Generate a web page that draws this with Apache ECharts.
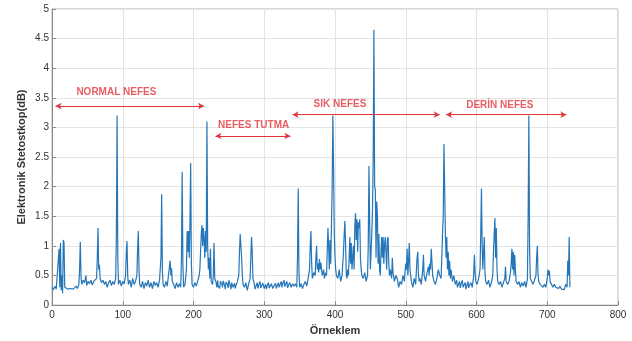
<!DOCTYPE html>
<html>
<head>
<meta charset="utf-8">
<script src="https://cdn.jsdelivr.net/npm/echarts@6/dist/echarts.min.js"></script>
<style>
  html, body { margin: 0; padding: 0; background: #fff; }
  #chart { width: 632px; height: 341px; }
</style>
</head>
<body>
<div id="chart"></div>
<script>
// sample index, amplitude (dB), one array per breathing phase
const normalNefes = [
  [0,0.3],[2,0.26],[4,0.32],[6,0.27],[8,0.3],[10,0.95],[11,0.3],[12,1.05],[13,0.25],[14,0.5],[15,0.2],[16,1.1],[17,1.05],[18,0.3],
  [20,0.28],[22,0.27],[24,0.3],[26,0.28],[28,0.3],[30,0.27],[32,0.29],[34,0.32],[36,0.28],[38,0.35],[39,0.6],[40,1.07],[41,0.5],
  [42,0.35],[44,0.42],[46,0.38],[48,0.5],[49,0.33],[51,0.4],[53,0.36],[55,0.42],[57,0.34],[59,0.4],[61,0.37],[63,0.45],[64,0.8],
  [65,1.3],[66,0.6],[67,0.68],[68,0.45],[70,0.38],[72,0.42],[74,0.35],[76,0.4],[78,0.3],[80,0.38],[82,0.42],[84,0.33],[86,0.4],
  [88,0.35],[90,0.45],[91,1.2],[92,3.2],[93,0.8],[94,0.35],[96,0.42],[98,0.32],[100,0.4],[102,0.36],[104,0.5],[105,0.9],[106,1.08],
  [107,0.5],[108,0.35],[110,0.42],[112,0.3],[114,0.45],[116,0.35],[118,0.4],[120,0.5],[121,0.95],[122,1.25],[123,0.6],[124,0.35],
  [126,0.3],[128,0.4],[130,0.28],[132,0.38],[134,0.32],[136,0.42],[138,0.3],[140,0.38],[142,0.28],[144,0.4],[146,0.33],[148,0.38],
  [150,0.3],[152,0.42],[154,0.8],[155,1.87],[156,0.6],[157,0.35],[159,0.3],[161,0.4],[163,0.32],[165,0.55],[166,0.65],[167,0.75],
  [168,0.5],[169,0.62],[170,0.4],[172,0.35],[174,0.28],[176,0.38],[178,0.3],[180,0.36],[182,0.3],[183,0.8],[184,2.25],[185,0.7],
  [186,0.3],[188,0.35],[190,0.6],[191,1.25],[192,0.9],[193,1.25],[194,0.8],[195,1.4],[196,2.4],[197,0.7],[198,0.35],[200,0.3],
  [202,0.38],[204,0.32],[206,0.35],[208,0.5],[209,0.6],[210,0.9],[211,1.2],[212,1.35],[213,1.0],[214,1.3],[215,1.1],[216,0.8],
  [217,1.25],[218,0.9],[219,3.1],[220,1.0],[221,0.6],[222,0.8],[223,0.45],[224,0.95],[225,0.4],[227,0.35],[228,0.5],[229,1.05],[230,0.45]
];
const nefesTutma = [
  [232,0.38],[233,0.3],[234,0.42],[235,0.32],[236,0.34],[237,0.28],[238,0.4],[240,0.36],[241,0.3],[242,0.41],[244,0.33],[245,0.27],
  [246,0.39],[248,0.35],[249,0.29],[250,0.42],[252,0.32],[253,0.27],[254,0.38],[256,0.3],[258,0.37],[259,0.28],[260,0.33],[262,0.4],
  [264,0.5],[265,0.9],[266,1.2],[267,1.18],[268,0.8],[269,0.5],[270,0.35],[272,0.3],[274,0.38],[276,0.25],[278,0.36],[280,0.45],
  [281,0.8],[282,1.15],[283,0.9],[284,0.45],[286,0.35],[287,0.27],[288,0.3],[290,0.38],[291,0.28],[292,0.33],[294,0.4],[295,0.29],
  [296,0.3],[298,0.37],[300,0.28],[302,0.35],[303,0.27],[304,0.32],[306,0.38],[307,0.29],[308,0.3],[310,0.36],[312,0.28],[314,0.33],
  [316,0.37],[317,0.28],[318,0.3],[320,0.38],[321,0.3],[322,0.33],[324,0.4],[325,0.3],[326,0.36],[328,0.42],[329,0.31],[330,0.35],
  [332,0.4],[333,0.29],[334,0.33],[336,0.38],[338,0.3],[340,0.36]
];
const sikNefes = [
  [342,0.32],[344,0.36],[346,0.3],[347,0.8],[348,1.97],[349,0.6],[350,0.3],[352,0.36],[354,0.28],[356,0.35],[358,0.4],[360,0.32],
  [362,0.45],[364,0.6],[365,1.0],[366,1.25],[367,0.7],[368,0.45],[370,0.55],[372,0.5],[373,0.8],[374,1.0],[375,0.6],[376,0.7],
  [377,0.55],[378,0.78],[379,0.6],[380,0.72],[382,0.5],[384,0.6],[385,0.45],[387,0.55],[388,0.5],[389,0.9],[390,1.3],[391,1.0],
  [392,0.6],[393,1.1],[394,0.7],[396,2.0],[397,3.2],[398,2.3],[399,1.2],[400,0.8],[401,0.6],[402,0.5],[404,0.45],[406,0.6],
  [408,0.4],[410,0.5],[412,0.9],[413,1.2],[414,1.42],[415,1.0],[416,0.5],[417,0.45],[418,0.6],[419,0.5],[420,0.8],[421,1.15],
  [422,0.7],[423,1.05],[424,0.6],[425,0.8],[426,1.0],[427,0.6],[428,1.3],[429,1.55],[430,1.1],[431,1.45],[432,0.9],[433,1.4],
  [434,1.3],[435,1.45],[436,0.8],[437,0.6],[438,0.5],[440,0.45],[442,0.55],[444,0.4],[446,0.5],[447,1.0],[448,2.35],[449,1.4],
  [450,0.6],[451,0.9],[452,1.2],[453,1.6],[454,2.5],[455,4.65],[456,2.0],[457,1.95],[458,0.8],[459,1.75],[460,1.5],[461,0.7],
  [462,1.2],[463,0.6],[464,0.5],[465,0.9],[466,1.15],[467,0.8],[468,1.15],[469,0.7],[470,1.0],[471,1.15],[472,0.9],[473,0.6],
  [474,1.1],[475,1.15],[476,0.7],[477,0.5],[478,0.6],[480,0.45],[481,0.8],[482,0.55],[484,0.4],[486,0.5],[488,0.45],[490,0.3],
  [492,0.4],[494,0.35],[496,0.5],[498,0.4],[500,0.7],[501,0.6],[502,0.95],[503,0.5],[504,0.75],[505,1.05],[506,0.6],[507,0.5],
  [508,0.4],[510,0.3],[512,0.45],[514,0.35],[516,0.8],[517,0.9],[518,0.5],[519,0.4],[520,0.45],[522,0.35],[524,0.6],[525,0.85],
  [526,0.5],[528,0.4],[530,0.55],[532,0.65],[533,0.5],[534,0.7],[535,0.6],[536,0.95],[537,0.75],[538,0.5],[540,0.4],[542,0.35],
  [544,0.45],[546,0.6],[548,0.5],[550,0.45],[552,1.2]
];
const derinNefes = [
  [553,1.5],[554,2.72],[555,2.0],[556,1.2],[557,0.8],[558,1.15],[559,0.6],[560,0.9],[561,0.5],[562,0.75],[563,0.45],[564,0.6],
  [566,0.4],[568,0.5],[570,0.35],[572,0.42],[573,0.3],[574,0.3],[576,0.4],[577,0.29],[578,0.35],[580,0.42],[581,0.3],[582,0.32],
  [584,0.38],[585,0.27],[586,0.3],[588,0.4],[589,0.29],[590,0.33],[592,0.38],[594,0.3],[596,0.5],[597,0.85],[598,0.55],[599,0.4],
  [601,0.35],[603,0.45],[605,0.6],[606,1.2],[607,1.97],[608,1.0],[609,0.6],[610,0.9],[611,1.15],[612,0.55],[613,0.4],[615,0.35],
  [617,0.42],[619,0.3],[621,0.38],[623,0.5],[624,0.9],[625,1.2],[626,1.47],[627,0.8],[628,1.3],[629,0.6],[630,0.4],[632,0.35],
  [634,0.4],[636,0.3],[638,0.38],[640,0.45],[641,0.65],[642,0.4],[644,0.35],[646,0.4],[648,0.55],[649,0.7],[650,0.95],[651,0.6],
  [652,0.9],[653,0.5],[654,0.85],[655,0.6],[656,0.4],[658,0.35],[660,0.4],[662,0.3],[664,0.38],[666,0.32],[668,0.4],[670,0.3],
  [672,0.45],[673,1.5],[674,3.2],[675,1.0],[676,0.45],[678,0.4],[680,0.35],[682,0.38],[684,0.5],[685,0.8],[686,1.0],[687,0.5],
  [688,0.4],[690,0.35],[692,0.38],[694,0.3],[696,0.35],[698,0.3],[700,0.45],[701,0.6],[702,0.5],[703,0.58],[704,0.4],[706,0.35],
  [708,0.3],[710,0.35],[712,0.3],[714,0.33],[716,0.28],[718,0.32],[720,0.27],[722,0.3],[724,0.26],[726,0.35],[728,0.3],[729,0.75],
  [730,0.5],[731,1.15],[732,0.3]
];

// phase annotations: [label, from, to, arrow level, label x, label y]
const phases = [
  ['NORMAL NEFES', 5, 215, 3.36, 91, 3.59],
  ['NEFES TUTMA', 231, 337, 2.855, 285, 3.03],
  ['SIK NEFES', 340, 548, 3.215, 407, 3.39],
  ['DERİN NEFES', 557, 727, 3.215, 633, 3.38]
];

const xTicks = { min: 0, max: 800, step: 100 };
const yTicks = { min: 0, max: 5, step: 0.5 };

const signal = normalNefes.concat(nefesTutma, sikNefes, derinNefes);
const red = '#e2353c';
const txt = '#333';

const chart = echarts.init(document.getElementById('chart'));
chart.setOption({
  animation: false,
  textStyle: { fontFamily: 'Liberation Sans, Arial, sans-serif' },
  grid: { left: 52, right: 14, top: 9, bottom: 30, show: true, borderColor: '#b5b5b5', borderWidth: 1 },
  xAxis: {
    type: 'value', min: xTicks.min, max: xTicks.max, interval: xTicks.step,
    name: 'Örneklem', nameLocation: 'middle', nameGap: 17,
    nameTextStyle: { fontSize: 11, fontWeight: 'bold', color: txt },
    axisLine: { show: true, lineStyle: { color: '#8a8a8a' } },
    axisTick: { show: true, inside: true, length: 4, lineStyle: { color: '#8a8a8a' } },
    axisLabel: { fontSize: 10, color: txt, margin: 5 },
    splitLine: { show: true, lineStyle: { color: '#e4e4e4', width: 1 } }
  },
  yAxis: {
    type: 'value', min: yTicks.min, max: yTicks.max, interval: yTicks.step,
    name: 'Elektronik Stetostkop(dB)', nameLocation: 'middle', nameGap: 25,
    nameMoveOverlap: false,
    nameTextStyle: { fontSize: 11, fontWeight: 'bold', color: txt },
    axisLine: { show: true, lineStyle: { color: '#8a8a8a' } },
    axisTick: { show: true, inside: true, length: 4, lineStyle: { color: '#8a8a8a' } },
    axisLabel: { fontSize: 10, color: txt, margin: 3 },
    splitLine: { show: true, lineStyle: { color: '#e4e4e4', width: 1 } }
  },
  series: [
    {
      type: 'line',
      data: signal,
      showSymbol: false,
      symbol: 'none',
      lineStyle: { color: '#2576b9', width: 1.2 },
      silent: true,
      markLine: {
        silent: true,
        symbol: ['arrow', 'arrow'],
        symbolSize: [5, 6],
        label: { show: false },
        lineStyle: { color: red, width: 1.2, type: 'solid' },
        data: phases.map(p => [{ coord: [p[1], p[3]] }, { coord: [p[2], p[3]] }])
      }
    },
    {
      type: 'scatter',
      symbolSize: 0,
      silent: true,
      data: phases.map(p => [p[4], p[5], p[0]]),
      label: {
        show: true, position: 'inside',
        formatter: d => d.value[2],
        color: red, fontSize: 10, fontWeight: 'bold'
      }
    }
  ]
});
</script>
</body>
</html>
